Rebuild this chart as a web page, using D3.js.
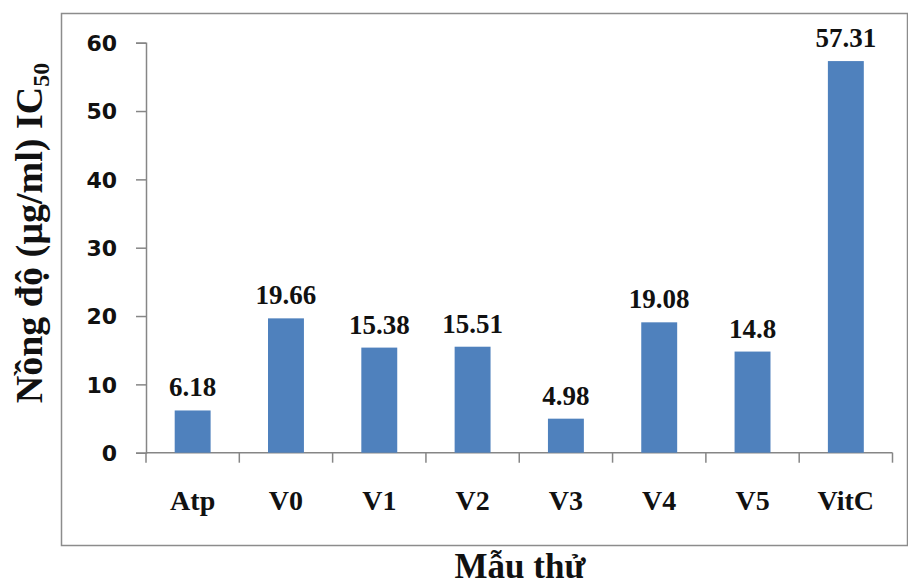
<!DOCTYPE html>
<html>
<head>
<meta charset="utf-8">
<script src="https://cdn.jsdelivr.net/npm/d3@7"></script>
<style>
  html, body { margin: 0; padding: 0; background: #fff; }
  svg { display: block; }
</style>
</head>
<body>
<svg id="chart" width="908" height="585"></svg>
<script>
// IC50 concentration per sample
const categories = ["Atp", "V0", "V1", "V2", "V3", "V4", "V5", "VitC"];
const values = [6.18, 19.66, 15.38, 15.51, 4.98, 19.08, 14.8, 57.31];
const valueLabels = ["6.18", "19.66", "15.38", "15.51", "4.98", "19.08", "14.8", "57.31"];
const yTicks = [0, 10, 20, 30, 40, 50, 60];

const svg = d3.select("#chart");
const serif = "'Liberation Serif', 'Times New Roman', serif";
const sans = "'DejaVu Sans', sans-serif";
const axisColor = "#868686";

// outer frame
svg.append("rect")
  .attr("x", 61.5).attr("y", 13.5)
  .attr("width", 846).attr("height", 532)
  .attr("fill", "none").attr("stroke", "#8c8c8c").attr("stroke-width", 1.5);

const x = d3.scaleBand().domain(categories).range([146, 892.5]).padding(0);
const y = d3.scaleLinear().domain([0, 60]).range([452.7, 42.7]);

// y axis
const yAxis = svg.append("g").attr("transform", "translate(146,0)")
  .call(d3.axisLeft(y).tickValues(yTicks).tickSize(10).tickPadding(19));
yAxis.select(".domain").attr("stroke", axisColor).attr("stroke-width", 1.5);
yAxis.selectAll(".tick line").attr("stroke", axisColor).attr("stroke-width", 1.5);
yAxis.selectAll(".tick text")
  .attr("font-family", sans).attr("font-weight", "bold").attr("font-size", 22)
  .attr("fill", "#111").attr("dy", "0.36em");

// x axis: ticks sit on band boundaries
const xAxisG = svg.append("g").attr("transform", `translate(0,${y(0)})`);
xAxisG.append("line")
  .attr("x1", 146).attr("x2", 892.5).attr("y1", 0).attr("y2", 0)
  .attr("stroke", axisColor).attr("stroke-width", 1.5);
const boundaries = categories.map(c => x(c)).concat([x.range()[1]]);
xAxisG.selectAll("line.tick").data(boundaries).enter().append("line")
  .attr("class", "tick")
  .attr("x1", d => d).attr("x2", d => d).attr("y1", 0).attr("y2", 10)
  .attr("stroke", axisColor).attr("stroke-width", 1.5);
xAxisG.selectAll("text").data(categories).enter().append("text")
  .attr("x", d => x(d) + x.bandwidth() / 2)
  .attr("y", 57)
  .attr("text-anchor", "middle")
  .attr("font-family", serif).attr("font-weight", "bold").attr("font-size", 28)
  .attr("fill", "#111")
  .text(d => d);

// bars
const barW = x.bandwidth() * 0.385;
svg.selectAll("rect.bar").data(values).enter().append("rect")
  .attr("class", "bar")
  .attr("x", (d, i) => x(categories[i]) + x.bandwidth() / 2 - barW / 2)
  .attr("y", d => y(d))
  .attr("width", barW)
  .attr("height", d => y(0) - y(d))
  .attr("fill", "#4F81BD");

// value labels
svg.selectAll("text.val").data(values).enter().append("text")
  .attr("class", "val")
  .attr("x", (d, i) => x(categories[i]) + x.bandwidth() / 2)
  .attr("y", d => y(d) - 14)
  .attr("text-anchor", "middle")
  .attr("font-family", serif).attr("font-weight", "bold").attr("font-size", 27)
  .attr("fill", "#111")
  .text((d, i) => valueLabels[i]);

// y axis title
const yTitle = svg.append("text")
  .attr("transform", "translate(42,233) rotate(-90)")
  .attr("text-anchor", "middle")
  .attr("font-family", serif).attr("font-weight", "bold").attr("font-size", 38)
  .attr("fill", "#111");
yTitle.append("tspan").text("Nồng độ (µg/ml) IC");
yTitle.append("tspan").attr("font-size", 24).attr("dy", 7).text("50");

// x axis title
svg.append("text")
  .attr("x", 520).attr("y", 578)
  .attr("text-anchor", "middle")
  .attr("font-family", serif).attr("font-weight", "bold").attr("font-size", 35)
  .attr("fill", "#111")
  .text("Mẫu thử");
</script>
</body>
</html>
